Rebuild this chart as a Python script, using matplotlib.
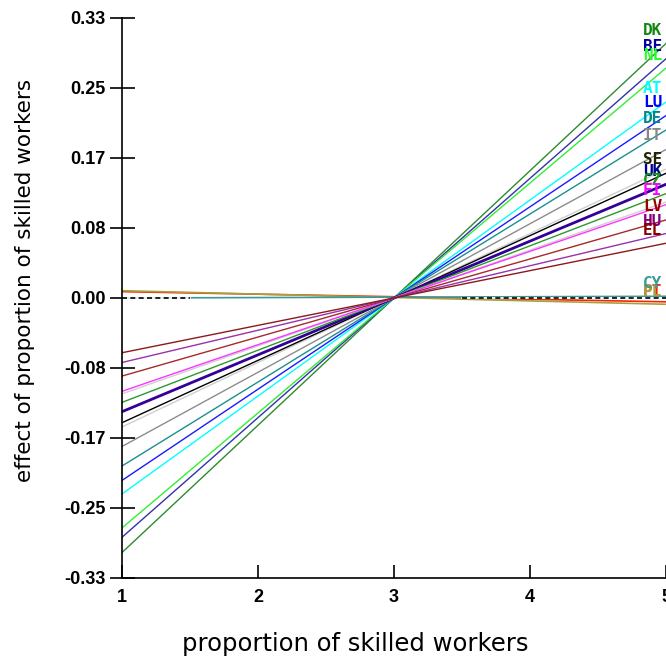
"""Effect of proportion of skilled workers, by country."""

import matplotlib

matplotlib.use("Agg")
import matplotlib.pyplot as plt

# value of the effect at x = 1 and x = 5 for each country line
COUNTRIES = ["DK", "BE", "NL", "AT", "LU", "DE", "IT", "", "SE", "UK",
             "CZ", "", "FI", "LV", "HU", "EL"]
EFFECT_AT_1 = [-0.300, -0.282, -0.271, -0.231, -0.215, -0.198, -0.175, -0.152,
               -0.147, -0.134, -0.123, -0.113, -0.110, -0.092, -0.076, -0.0645]
EFFECT_AT_5 = [0.300, 0.282, 0.271, 0.231, 0.215, 0.198, 0.175, 0.152,
               0.147, 0.134, 0.123, 0.113, 0.110, 0.092, 0.076, 0.0645]
COLORS = ["#2e8b2e", "#3333aa", "#33ee33", "#00ffff", "#1a1aff", "#1a8f8f",
          "#8c8c8c", "#cfcfcf", "#000000", "#330099", "#2a9a2a", "#d0d0d0",
          "#ff33ff", "#a52a2a", "#9933aa", "#8b1a1a"]
LABEL_COLORS = ["#118811", "#000099", "#22ff22", "#00ffff", "#0000ff",
                "#008888", "#888888", "", "#222200", "#000088", "#119911", "",
                "#ff00ff", "#990000", "#800080", "#880000"]
LABEL_Y = [0.315, 0.296, 0.286, 0.247, 0.230, 0.212, 0.192, None, 0.163,
           0.149, 0.139, None, 0.127, 0.108, 0.090, 0.080]

# countries with almost no effect
FLAT_COUNTRIES = ["PT", "PL", "CY"]
FLAT_AT_1 = [0.0075, 0.0086, 0.0]
FLAT_AT_5 = [-0.0045, -0.0074, 0.002]
FLAT_COLORS = ["#ff2200", "#a8a040", "#3a9a9a"]
FLAT_LABEL_Y = [0.008, 0.008, 0.017]

ZERO_SEGMENTS = [(1.0, 1.5), (3.5, 5.0)]

X_TICKS = [1, 2, 3, 4, 5]
Y_TICKS = [-0.33, -0.2475, -0.165, -0.0825, 0.0, 0.0825, 0.165, 0.2475, 0.33]
Y_TICK_LABELS = ["-0.33", "-0.25", "-0.17", "-0.08", "0.00",
                 "0.08", "0.17", "0.25", "0.33"]

fig = plt.figure(figsize=(6.66, 6.61), dpi=100)
ax = fig.add_axes([122 / 666, 83 / 661, 544 / 666, 560 / 661])

for lo, hi, col in zip(FLAT_AT_1, FLAT_AT_5, FLAT_COLORS):
    ax.plot([1, 5], [lo, hi], color=col, lw=1.2, zorder=2)

for x0, x1 in ZERO_SEGMENTS:
    ax.plot([x0, x1], [0, 0], color="white", lw=1.2, zorder=3)
    ax.plot([x0, x1], [0, 0], color="black", lw=1.2, ls=(0, (3, 2)), zorder=3)

for i, (lo, hi, col) in enumerate(zip(EFFECT_AT_1, EFFECT_AT_5, COLORS)):
    lw = 2.0 if COUNTRIES[i] == "UK" else 1.0
    ax.plot([1, 5], [lo, hi], color=col, lw=lw, zorder=4)

label_font = dict(family="DejaVu Sans Mono", weight="bold", size=11.5,
                  ha="left", va="center", clip_on=False)
for name, col, y in zip(COUNTRIES, LABEL_COLORS, LABEL_Y):
    if name:
        ax.text(4.83, y, name, color=col, zorder=6, **label_font)
for name, col, y in zip(FLAT_COUNTRIES, FLAT_COLORS, FLAT_LABEL_Y):
    ax.text(4.83, y, name, color=col, zorder=6, **label_font)

ax.set_xlim(1, 5)
ax.set_ylim(-0.33, 0.33)
ax.spines["top"].set_visible(False)
ax.spines["right"].set_visible(False)
for side in ("left", "bottom"):
    ax.spines[side].set_linewidth(1.2)
    ax.spines[side].set_zorder(7)

ax.set_xticks(X_TICKS)
ax.set_xticklabels([str(t) for t in X_TICKS])
ax.set_yticks(Y_TICKS)
ax.set_yticklabels(Y_TICK_LABELS)
ax.tick_params(axis="y", direction="inout", length=18, width=1.2, pad=3)
ax.tick_params(axis="x", direction="in", length=9.5, width=1.2, pad=8)
for lab in ax.get_xticklabels() + ax.get_yticklabels():
    lab.set_fontfamily("Liberation Sans")
    lab.set_fontweight("bold")
    lab.set_fontsize(13)

ax.set_xlabel("proportion of skilled workers", fontsize=17.5, va="top")
ax.xaxis.set_label_coords(0.428, -0.097)
ax.set_ylabel("effect of proportion of skilled workers", fontsize=15.5,
              va="center")
ax.yaxis.set_label_coords(-0.178, 0.532)

fig.savefig("out.png", dpi=100)
